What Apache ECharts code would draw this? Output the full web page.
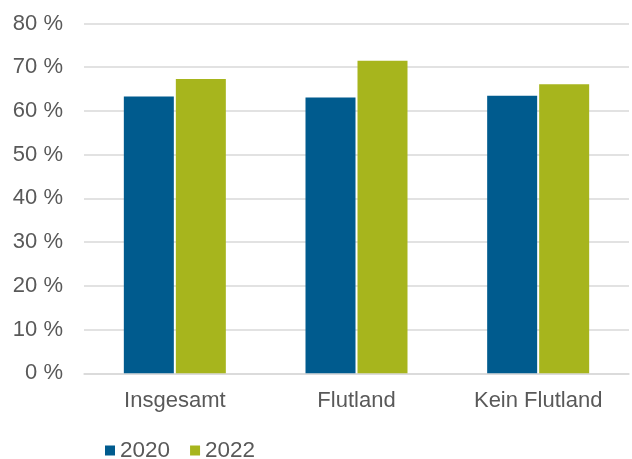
<!DOCTYPE html>
<html>
<head>
<meta charset="utf-8">
<script src="https://cdn.jsdelivr.net/npm/echarts@6/dist/echarts.min.js"></script>
<style>
  html, body { margin: 0; padding: 0; background: #ffffff; }
  #chart { width: 632px; height: 459px; }
</style>
</head>
<body>
<div id="chart"></div>
<script>
// Categories and yearly shares (percent)
const categories = ['Insgesamt', 'Flutland', 'Kein Flutland'];
const years = ['2020', '2022'];
const values2020 = [63.3, 63.1, 63.5];
const values2022 = [67.3, 71.5, 66.1];
const seriesColors = ['#005B8E', '#A7B51D'];

const textColor = '#595959';
const fontFamily = '"Liberation Sans", Arial, sans-serif';

const chart = echarts.init(document.getElementById('chart'), null, { renderer: 'canvas' });

chart.setOption({
  animation: false,
  textStyle: { fontFamily: fontFamily },
  grid: { left: 84, right: 3, top: 23.5, bottom: 85.7, containLabel: false },
  legend: {
    data: years,
    left: 100,
    top: 434,
    itemWidth: 10,
    itemHeight: 10,
    itemGap: 20,
    icon: 'rect',
    textStyle: { color: textColor, fontSize: 22.5, fontFamily: fontFamily }
  },
  xAxis: {
    type: 'category',
    data: categories,
    axisTick: { show: false },
    axisLine: { lineStyle: { color: '#D9D9D9', width: 1.5 } },
    axisLabel: { color: textColor, fontSize: 22, margin: 17, fontFamily: fontFamily }
  },
  yAxis: {
    type: 'value',
    min: 0,
    max: 80,
    interval: 10,
    axisLine: { show: false },
    axisTick: { show: false },
    splitLine: { lineStyle: { color: '#D9D9D9', width: 1.5 } },
    axisLabel: {
      color: textColor,
      fontSize: 22,
      margin: 21,
      fontFamily: fontFamily,
      formatter: v => v + ' %'
    }
  },
  series: [
    {
      name: years[0],
      type: 'bar',
      data: values2020,
      barWidth: 50,
      barGap: '4%',
      itemStyle: { color: seriesColors[0] }
    },
    {
      name: years[1],
      type: 'bar',
      data: values2022,
      barWidth: 50,
      itemStyle: { color: seriesColors[1] }
    }
  ]
});
</script>
</body>
</html>
